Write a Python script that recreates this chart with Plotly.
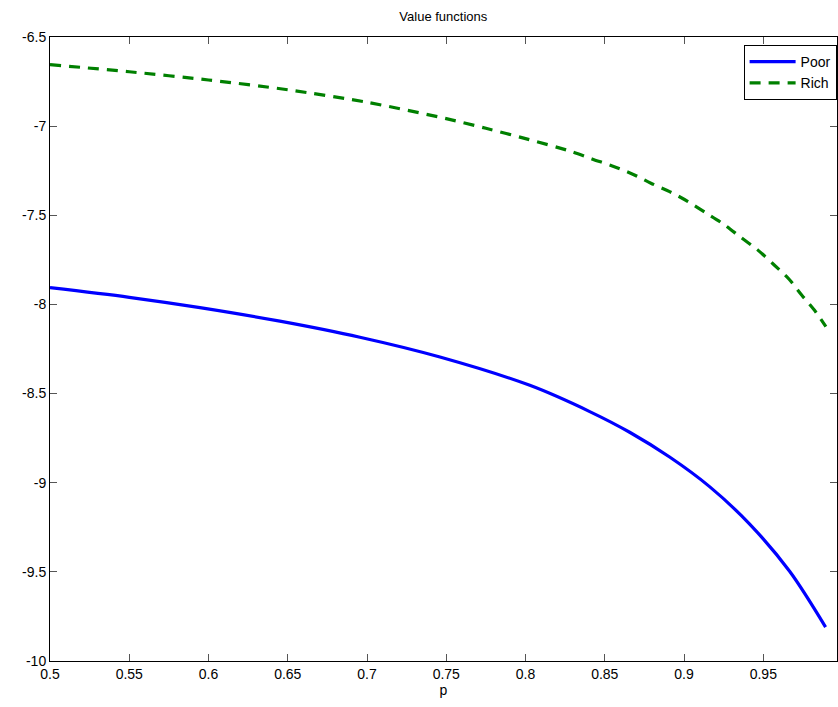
import plotly.graph_objects as go

p_poor = [0.5, 0.55, 0.5946, 0.645, 0.6955, 0.746, 0.8027, 0.8405, 0.8657, 0.8909, 0.9161, 0.9414, 0.9666, 0.9893]
v_poor = [-7.906, -7.960, -8.018, -8.094, -8.184, -8.295, -8.454, -8.601, -8.717, -8.856, -9.022, -9.232, -9.497, -9.810]

p_rich = [0.5, 0.55, 0.6, 0.65, 0.7, 0.75, 0.775, 0.8, 0.8293, 0.8419, 0.8547, 0.8673, 0.8791, 0.8909,
          0.9025, 0.9141, 0.925, 0.9357, 0.9464, 0.9562, 0.9663, 0.9742, 0.983, 0.9895]
v_rich = [-6.655, -6.695, -6.741, -6.796, -6.866, -6.958, -7.012, -7.070, -7.143, -7.184, -7.223, -7.268, -7.320, -7.367,
          -7.423, -7.488, -7.550, -7.623, -7.694, -7.773, -7.859, -7.947, -8.041, -8.125]

x_ticks = [0.5, 0.55, 0.6, 0.65, 0.7, 0.75, 0.8, 0.85, 0.9, 0.95]
x_tick_labels = ["0.5", "0.55", "0.6", "0.65", "0.7", "0.75", "0.8", "0.85", "0.9", "0.95"]
y_ticks = [-10, -9.5, -9, -8.5, -8, -7.5, -7, -6.5]
y_tick_labels = ["-10", "-9.5", "-9", "-8.5", "-8", "-7.5", "-7", "-6.5"]

fig = go.Figure()
fig.add_trace(go.Scatter(x=p_poor, y=v_poor, mode="lines", name="Poor",
                         line=dict(color="#0000FF", width=3.2, shape="spline", smoothing=0.9)))
fig.add_trace(go.Scatter(x=p_rich, y=v_rich, mode="lines", name="Rich",
                         line=dict(color="#008000", width=3.2, dash="11px,8px", shape="spline", smoothing=0.8)))

font = "Liberation Sans, Arial, sans-serif"
fig.update_layout(
    width=838, height=707,
    margin=dict(l=50, r=1, t=37, b=46),
    paper_bgcolor="white", plot_bgcolor="white",
    font=dict(family=font, size=14, color="black"),
    title=dict(text="Value functions", x=0.529, xanchor="center", y=0.977, yanchor="middle",
               font=dict(family=font, size=13, color="black")),
    showlegend=True,
    legend=dict(x=0.9995, xanchor="right", y=0.987, yanchor="top",
                bordercolor="black", borderwidth=1, bgcolor="white",
                font=dict(family=font, size=14, color="black"),
                tracegroupgap=0, itemwidth=46),
    xaxis=dict(range=[0.5, 0.9965], tickvals=x_ticks, ticktext=x_tick_labels,
               showgrid=False, zeroline=False, showline=True, linecolor="black", linewidth=1,
               mirror="ticks", ticks="inside", ticklen=7, tickcolor="#555555",
               title=dict(text="p", standoff=4, font=dict(size=14))),
    yaxis=dict(range=[-10, -6.5], tickvals=y_ticks, ticktext=y_tick_labels,
               showgrid=False, zeroline=False, showline=True, linecolor="black", linewidth=1,
               mirror="ticks", ticks="inside", ticklen=7, tickcolor="#555555"),
)

fig.write_html("out.html", config={"displayModeBar": False},
               post_script="document.body.style.margin='0';document.body.style.padding='0';document.body.style.overflow='hidden';")
